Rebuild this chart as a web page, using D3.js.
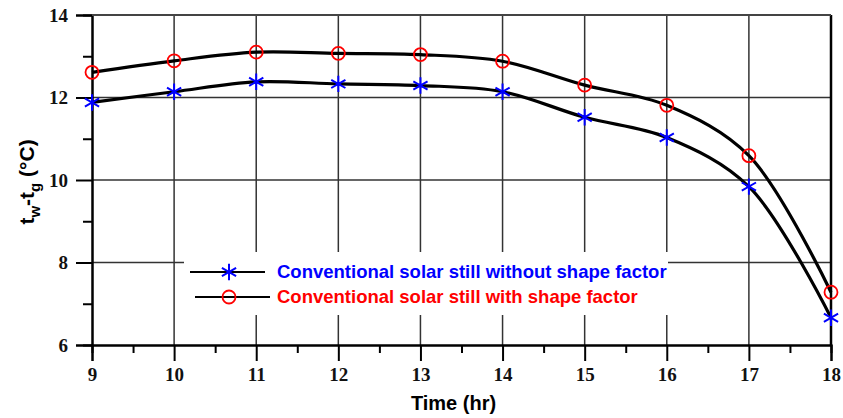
<!DOCTYPE html>
<html>
<head>
<meta charset="utf-8">
<script src="https://cdn.jsdelivr.net/npm/d3@7"></script>
<style>
  html, body { margin: 0; padding: 0; background: #fff; overflow: hidden; }
  svg { display: block; }
  .tick text { font-family: "Liberation Serif", "Times New Roman", serif; font-weight: bold; font-size: 19px; fill: #111; }
</style>
</head>
<body>
<div id="chart"></div>
<script>
// values
const hours = [9, 10, 11, 12, 13, 14, 15, 16, 17, 18];
const withoutShape = [11.88, 12.14, 12.38, 12.33, 12.29, 12.14, 11.52, 11.03, 9.84, 6.66];
const withShape = [12.61, 12.89, 13.10, 13.07, 13.04, 12.88, 12.30, 11.81, 10.59, 7.28];
const xTicks = [9, 10, 11, 12, 13, 14, 15, 16, 17, 18];
const xMinor = [9.5, 10.5, 11.5, 12.5, 13.5, 14.5, 15.5, 16.5, 17.5];
const yTicks = [6, 8, 10, 12, 14];
const yMinor = [7, 9, 11, 13];
const legendLabels = ["Conventional solar still without shape factor", "Conventional solar still with shape factor"];

const width = 843, height = 418;
const margin = {top: 15, right: 12, bottom: 73, left: 92};
const innerWidth = width - margin.left - margin.right;
const innerHeight = height - margin.top - margin.bottom;

const svg = d3.select("#chart").append("svg")
    .attr("width", width)
    .attr("height", height)
    .append("g")
    .attr("transform", `translate(${margin.left},${margin.top})`);

const x = d3.scaleLinear().domain([9, 18]).range([0, innerWidth]);
const y = d3.scaleLinear().domain([6, 14]).range([innerHeight, 0]);

// grid
svg.append("g").selectAll("line")
    .data(xTicks.slice(1, -1))
    .join("line")
    .attr("x1", d => x(d)).attr("x2", d => x(d))
    .attr("y1", 0).attr("y2", innerHeight)
    .attr("stroke", "#333").attr("stroke-width", 1.5);

svg.append("g").selectAll("line")
    .data(yTicks.slice(1))
    .join("line")
    .attr("x1", 0).attr("x2", innerWidth)
    .attr("y1", d => y(d)).attr("y2", d => y(d))
    .attr("stroke", "#333").attr("stroke-width", 1.5);

// right frame
svg.append("line")
    .attr("x1", innerWidth).attr("x2", innerWidth)
    .attr("y1", 0).attr("y2", innerHeight)
    .attr("stroke", "#000").attr("stroke-width", 2.5);

// legend box (covers grid)
svg.append("rect")
    .attr("x", 92).attr("y", 237)
    .attr("width", 484).attr("height", 63)
    .attr("fill", "#fff");

// axes
const xAxis = svg.append("g")
    .attr("transform", `translate(0,${innerHeight})`)
    .call(d3.axisBottom(x).tickValues(xTicks).tickFormat(d3.format("d")).tickSize(16).tickPadding(6));
const xAxisMinor = svg.append("g")
    .attr("transform", `translate(0,${innerHeight})`)
    .call(d3.axisBottom(x).tickValues(xMinor).tickSize(8).tickFormat(""));
const yAxis = svg.append("g")
    .call(d3.axisLeft(y).tickValues(yTicks).tickSize(16).tickPadding(8));
const yAxisMinor = svg.append("g")
    .call(d3.axisLeft(y).tickValues(yMinor).tickSize(9).tickFormat(""));

[xAxis, xAxisMinor, yAxis, yAxisMinor].forEach(g => {
    g.selectAll("path").attr("stroke", "#000").attr("stroke-width", 2);
    g.selectAll("line").attr("stroke", "#000").attr("stroke-width", 2);
});
xAxis.selectAll("text").attr("dy", "0.75em");

// top line at 14
svg.append("line")
    .attr("x1", 0).attr("x2", innerWidth)
    .attr("y1", y(14)).attr("y2", y(14))
    .attr("stroke", "#444").attr("stroke-width", 2);

// axis titles
svg.append("text")
    .attr("x", innerWidth / 2 - 8)
    .attr("y", innerHeight + 65)
    .attr("text-anchor", "middle")
    .style("font-family", "Liberation Sans, Arial, sans-serif")
    .style("font-weight", "bold")
    .style("font-size", "20px")
    .text("Time (hr)");

const yTitle = svg.append("text")
    .attr("transform", `translate(${-58},${innerHeight / 2 + 2}) rotate(-90)`)
    .attr("text-anchor", "middle")
    .style("font-family", "Liberation Sans, Arial, sans-serif")
    .style("font-weight", "bold")
    .style("font-size", "21px");
yTitle.append("tspan").text("t");
yTitle.append("tspan").attr("dy", 6).style("font-size", "15px").text("w");
yTitle.append("tspan").attr("dy", -6).text("-t");
yTitle.append("tspan").attr("dy", 6).style("font-size", "15px").text("g");
yTitle.append("tspan").attr("dy", -6).text(" (\u00B0C)");

// curves
const line = d3.line()
    .x((d, i) => x(hours[i]))
    .y(d => y(d))
    .curve(d3.curveCatmullRom.alpha(0.5));

[withoutShape, withShape].forEach(series => {
    svg.append("path")
        .datum(series)
        .attr("d", line)
        .attr("fill", "none")
        .attr("stroke", "#000")
        .attr("stroke-width", 3.2);
});

// markers
const star = d3.symbol().type(d3.symbolAsterisk).size(190);
svg.append("g").selectAll("path")
    .data(withoutShape)
    .join("path")
    .attr("transform", (d, i) => `translate(${x(hours[i])},${y(d)})`)
    .attr("d", star)
    .attr("fill", "none")
    .attr("stroke", "#0000ff")
    .attr("stroke-width", 2);

svg.append("g").selectAll("circle")
    .data(withShape)
    .join("circle")
    .attr("cx", (d, i) => x(hours[i]))
    .attr("cy", d => y(d))
    .attr("r", 6.5)
    .attr("fill", "none")
    .attr("stroke", "#ff0000")
    .attr("stroke-width", 1.8);

// legend
const legendColors = ["#0000ff", "#ff0000"];
const legend = svg.append("g");
legendLabels.forEach((label, i) => {
    const ly = 257 + i * 25;
    const lx = i === 0 ? 98 : 103;
    legend.append("line")
        .attr("x1", lx).attr("x2", lx + 75)
        .attr("y1", ly).attr("y2", ly)
        .attr("stroke", "#000").attr("stroke-width", 2);
    if (i === 0) {
        legend.append("path")
            .attr("transform", `translate(137,${ly})`)
            .attr("d", star)
            .attr("fill", "none")
            .attr("stroke", legendColors[i])
            .attr("stroke-width", 2);
    } else {
        legend.append("circle")
            .attr("cx", 137).attr("cy", ly).attr("r", 6.5)
            .attr("fill", "none")
            .attr("stroke", legendColors[i])
            .attr("stroke-width", 1.8);
    }
    legend.append("text")
        .attr("x", 185)
        .attr("y", ly + 6)
        .style("font-family", "Liberation Sans, Arial, sans-serif")
        .style("font-weight", "bold")
        .style("font-size", "18.5px")
        .attr("fill", legendColors[i])
        .text(label);
});
</script>
</body>
</html>
